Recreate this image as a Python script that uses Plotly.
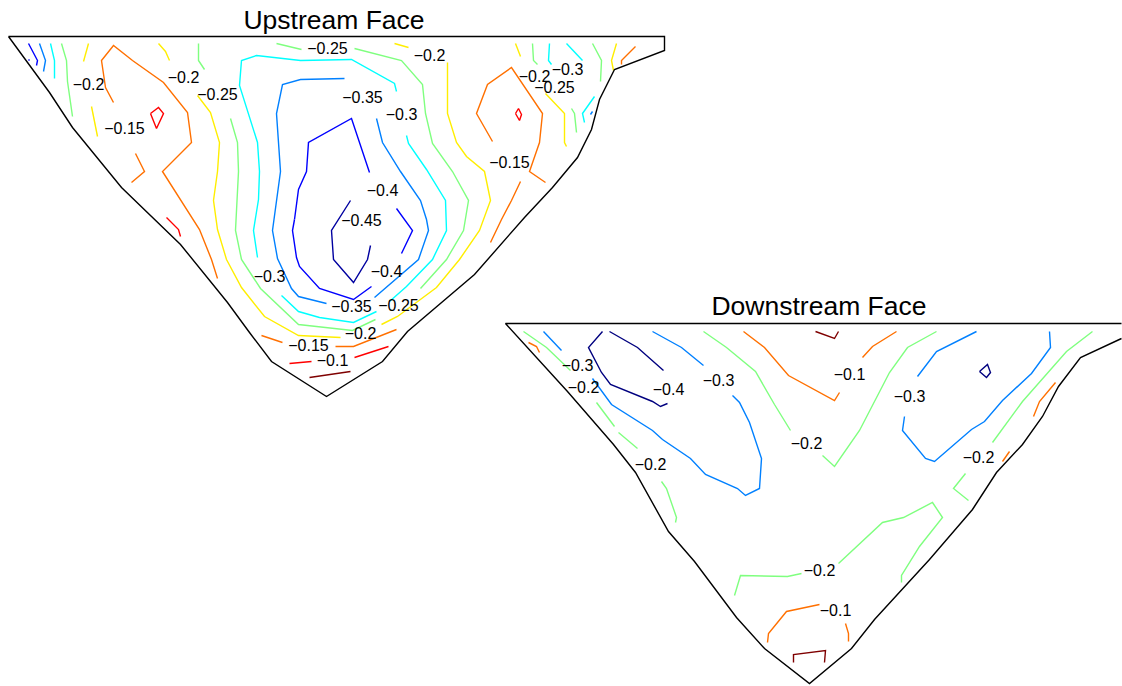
import plotly.graph_objects as go

# Colours of the contour levels
C_DARKRED = "#7f0000"
C_RED = "#ff0000"
C_ORANGE = "#ff7000"
C_YELLOW = "#ffee00"
C_GREEN = "#7fff7f"
C_CYAN = "#00ffff"
C_AZURE = "#0080ff"
C_BLUE = "#0000ff"
C_NAVY = "#0000a0"
C_DOWN_NAVY = "#00007f"

TITLES = ["Upstream Face", "Downstream Face"]
TITLE_X = [334.5, 819.5]
TITLE_Y = [23, 309]

up_outline = [(9,37),(665,37),(665,51),(615,70),(600,100),(592,130),(578,158),(553,188),(525,218),(490,258),(475,275),(408,332),(383,362),(327,397),(272,362),(250,333),(228,303),(181,245),(150,215),(122,188),(73,128),(50,93),(9,37)]
down_outline = [(1122,324),(506,324),(568,392),(614,445),(636,473),(657,510),(669,532),(695,562),(737,618),(765,649),(810,684),(852,649),(875,620),(930,560),(960,525),(973,510),(997,473),(1023,445),(1043,417),(1059,387),(1081,358),(1122,339)]

up_m045 = [
    [(351,201),(332,231),(334,260),(354,283),(368,260),(371,246)],
]
up_m040 = [
    [(29,44),(38,61),(37,66)],
    [(29,60),(30,61)],
    [(295,220),(299,190),(307,172),(309,143),(352,119),(360,143),(370,173)],
    [(295,220),(293,231),(297,258),(300,267),(320,289),(354,300),(372,287)],
    [(397,209),(413,231),(402,254)],
]
up_m035 = [
    [(40,44),(46,61),(44,72)],
    [(345,79),(301,80),(283,85),(277,114),(281,172),(275,220),(273,231),(278,259),(292,289),(299,297),(327,304)],
    [(377,119),(383,143),(401,172),(421,201),(427,220),(429,231),(419,260),(375,298)],
    [(593,112),(591,115)],
]
up_m030 = [
    [(51,44),(55,61),(55,79)],
    [(258,258),(254,231),(259,200),(260,172),(258,143),(240,86),(242,61),(257,56),(301,61),(352,60),(395,84),(397,92)],
    [(407,136),(409,144),(427,170),(446,201),(447,231),(433,260),(407,287),(390,302)],
    [(282,296),(299,312),(320,318),(354,323),(377,312)],
    [(550,44),(549,61),(552,65)],
    [(567,44),(583,61)],
    [(595,97),(583,114),(585,123)],
]
up_m025 = [
    [(62,44),(67,61),(68,82),(73,117)],
    [(199,44),(199,61),(205,70)],
    [(277,44),(302,50)],
    [(355,49),(402,61),(423,85),(426,114),(433,144),(453,172),(469,201),(464,231),(447,260),(421,289)],
    [(231,119),(238,143),(239,172),(236,231),(242,260),(261,289),(299,325),(353,331),(376,320)],
    [(533,44),(534,61),(538,65)],
    [(593,44),(602,61),(601,82)],
    [(572,109),(575,114),(577,133)],
]
up_m020 = [
    [(89,44),(84,62)],
    [(92,107),(98,137)],
    [(159,44),(166,52),(170,61)],
    [(198,96),(211,113),(220,143),(218,172),(214,201),(218,230),(227,260),(242,288),(265,317),(299,336),(341,338)],
    [(395,44),(409,48)],
    [(448,63),(448,114),(457,143),(467,157),(485,172),(491,201),(480,231),(460,260),(437,288),(398,317),(382,325)],
    [(516,44),(521,57)],
    [(617,44),(612,61),(614,71)],
    [(546,94),(565,114),(565,143),(567,147)],
]
up_m015 = [
    [(114,103),(106,88),(102,61),(114,46),(133,61),(164,83),(188,113),(192,143),(163,172),(193,220),(200,230),(212,260),(218,279)],
    [(136,154),(145,172),(132,183)],
    [(493,142),(477,114),(488,85),(512,68),(543,114),(540,143),(530,172),(546,183)],
    [(521,182),(512,201),(502,220),(491,243)],
    [(636,47),(622,61),(622,65)],
    [(262,336),(283,343)],
    [(336,347),(354,347),(397,330)],
]
up_m010 = [
    [(151,114),(159,108),(164,114),(157,129),(151,114)],
    [(167,218),(179,230),(181,237)],
    [(516,114),(519,109),(522,115),(520,121),(516,114)],
    [(290,364),(312,362)],
    [(355,358),(389,347)],
]
up_m005 = [
    [(310,378),(351,372)],
]

down_m040 = [
    [(603,332),(589,348),(602,373),(611,385),(653,402),(661,407),(668,404)],
    [(610,332),(638,348),(664,371)],
    [(980,372),(988,365),(991,373),(987,378),(980,372)],
]
down_m030 = [
    [(544,332),(562,351)],
    [(593,379),(612,405),(653,431),(663,440),(691,459),(706,475),(738,489),(746,496),(760,489),(762,459),(750,423),(740,403),(733,396)],
    [(653,332),(682,348),(704,366)],
    [(977,332),(937,352),(918,377)],
    [(905,417),(903,431),(926,459),(935,462),(972,430),(985,422),(1003,401),(1032,374),(1051,348),(1050,332)],
]
down_m020 = [
    [(524,332),(547,348),(571,371)],
    [(597,403),(615,427)],
    [(619,433),(638,449)],
    [(662,482),(667,489),(677,518),(676,523)],
    [(704,332),(727,348),(756,372),(775,405),(791,431)],
    [(937,332),(908,348),(890,373),(860,431),(835,467),(823,456)],
    [(1093,332),(1067,352),(1023,402),(993,443)],
    [(966,474),(954,489),(969,501)],
    [(839,564),(883,523),(904,518),(933,503),(943,518),(920,547),(902,576),(902,583)],
    [(802,574),(788,577),(741,576),(735,596)],
]
down_m010 = [
    [(529,343),(537,347),(540,353)],
    [(744,332),(765,348),(789,376),(835,401),(840,393)],
    [(863,358),(873,347),(897,332)],
    [(1056,383),(1040,402),(1034,417)],
    [(1010,452),(1003,462)],
    [(820,605),(787,612),(769,634),(768,643)],
    [(846,624),(849,634),(849,642)],
]
down_000 = [
    [(816,332),(835,339),(839,332)],
    [(794,663),(794,655),(826,651),(825,663)],
]

label_text = [
    "\u22120.25","\u22120.2","\u22120.2","\u22120.2","\u22120.25","\u22120.15","\u22120.35","\u22120.3",
    "\u22120.4","\u22120.45","\u22120.4","\u22120.3","\u22120.35","\u22120.25","\u22120.2","\u22120.15","\u22120.1",
    "\u22120.2","\u22120.3","\u22120.25","\u22120.15",
    "\u22120.3","\u22120.2","\u22120.4","\u22120.3","\u22120.2","\u22120.2","\u22120.1","\u22120.3","\u22120.2","\u22120.2","\u22120.1",
]
label_x = [328,430,89,184,218,125,363,402,383,362,387,270,352,399,361,309,333,535,568,555,510,
           578,584,669,719,651,807,850,910,979,820,836]
label_y = [50,57,86,79,96,130,99,116,192,222,273,278,308,307,335,347,362,78,71,89,164,
           367,389,391,382,466,445,376,398,459,572,612]

fig = go.Figure()


def add_lines(segments, color, width=1.4):
    xs, ys = [], []
    for seg in segments:
        xs += [p[0] for p in seg] + [None]
        ys += [p[1] for p in seg] + [None]
    fig.add_trace(go.Scatter(x=xs, y=ys, mode="lines", hoverinfo="skip", showlegend=False,
                             line=dict(color=color, width=width, shape="linear")))


for segs, col in [
    (up_m045, C_NAVY), (up_m040, C_BLUE), (up_m035, C_AZURE), (up_m030, C_CYAN),
    (up_m025, C_GREEN), (up_m020, C_YELLOW), (up_m015, C_ORANGE), (up_m010, C_RED), (up_m005, C_DARKRED),
    (down_m040, C_DOWN_NAVY), (down_m030, C_AZURE), (down_m020, C_GREEN), (down_m010, C_ORANGE), (down_000, C_DARKRED),
]:
    add_lines(segs, col)

add_lines([up_outline, down_outline], "#000000", 1.4)

fig.add_trace(go.Scatter(x=label_x, y=label_y, text=label_text, mode="text", hoverinfo="skip", showlegend=False,
                         textposition="middle center",
                         textfont=dict(family="Liberation Sans", size=16, color="#000000")))
fig.add_trace(go.Scatter(x=TITLE_X, y=TITLE_Y, text=TITLES, mode="text", hoverinfo="skip", showlegend=False,
                         textposition="middle center",
                         textfont=dict(family="Liberation Sans", size=26.5, color="#000000")))

fig.update_layout(
    width=1122, height=686, margin=dict(l=0, r=0, t=0, b=0),
    paper_bgcolor="white", plot_bgcolor="white", showlegend=False,
    xaxis=dict(range=[0.5, 1122.5], visible=False, fixedrange=True),
    yaxis=dict(range=[686.5, 0.5], visible=False, fixedrange=True),
)
fig.write_html("out.html", post_script="document.body.style.margin='0';",
               config=dict(displayModeBar=False))
